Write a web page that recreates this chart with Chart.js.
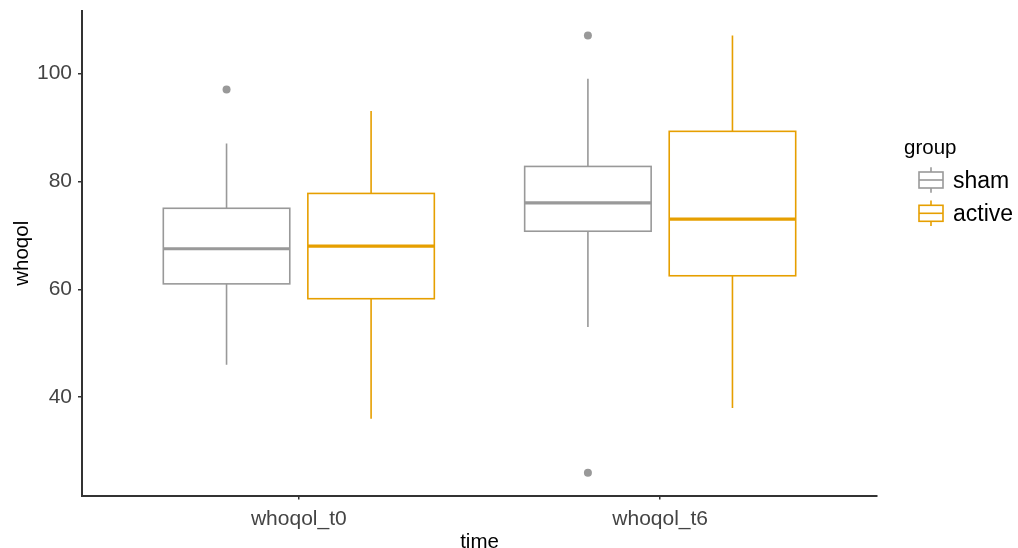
<!DOCTYPE html>
<html>
<head>
<meta charset="utf-8">
<script src="https://cdn.jsdelivr.net/npm/chart.js@4.4.1/dist/chart.umd.min.js"></script>
<style>
  html, body { margin: 0; padding: 0; background: #ffffff; }
  #wrap { width: 1018px; height: 548px; position: relative; }
</style>
</head>
<body>
<div id="wrap"><canvas id="c" width="1018" height="548"></canvas></div>
<script>
// ---- data ----
const categories = ['whoqol_t0', 'whoqol_t6'];
const groups = ['sham', 'active'];
const yTicks = [40, 60, 80, 100];

const shamMin    = [46, 53];
const shamQ1     = [61, 70.75];
const shamMedian = [67.5, 76];
const shamQ3     = [75, 82.75];
const shamMax    = [87, 99];
const shamOutliers = [[97], [107, 26]];

const activeMin    = [36, 38];
const activeQ1     = [58.25, 62.5];
const activeMedian = [68, 73];
const activeQ3     = [77.75, 89.25];
const activeMax    = [93, 107];
const activeOutliers = [[], []];

// ---- styling ----
const colors = { sham: '#999999', active: '#E69F00' };
const dodge = { sham: -0.2, active: 0.2 };
const boxWidth = 0.35;
const FONT = '"Liberation Sans", Arial, Helvetica, sans-serif';

const stats = {
  sham:   { min: shamMin, q1: shamQ1, med: shamMedian, q3: shamQ3, max: shamMax, out: shamOutliers },
  active: { min: activeMin, q1: activeQ1, med: activeMedian, q3: activeQ3, max: activeMax, out: activeOutliers }
};

const outlierDatasets = groups.map(g => ({
  label: g,
  data: stats[g].out.flatMap((arr, ci) => arr.map(v => ({ x: ci + 1 + dodge[g], y: v }))),
  backgroundColor: colors[g],
  borderWidth: 0,
  pointRadius: 4,
  pointHoverRadius: 4
}));

const boxPlugin = {
  id: 'boxes',
  beforeDatasetsDraw(chart) {
    const { ctx, scales: { x, y } } = chart;
    ctx.save();
    groups.forEach(g => {
      const s = stats[g];
      categories.forEach((c, ci) => {
        const xc = x.getPixelForValue(ci + 1 + dodge[g]);
        const xl = x.getPixelForValue(ci + 1 + dodge[g] - boxWidth / 2);
        const xr = x.getPixelForValue(ci + 1 + dodge[g] + boxWidth / 2);
        const yMin = y.getPixelForValue(s.min[ci]);
        const yQ1 = y.getPixelForValue(s.q1[ci]);
        const yMed = y.getPixelForValue(s.med[ci]);
        const yQ3 = y.getPixelForValue(s.q3[ci]);
        const yMax = y.getPixelForValue(s.max[ci]);
        ctx.strokeStyle = colors[g];
        ctx.lineWidth = 1.6;
        ctx.lineCap = 'butt';
        ctx.beginPath();
        ctx.moveTo(xc, yQ3); ctx.lineTo(xc, yMax);
        ctx.moveTo(xc, yQ1); ctx.lineTo(xc, yMin);
        ctx.stroke();
        ctx.fillStyle = '#ffffff';
        ctx.fillRect(xl, yQ3, xr - xl, yQ1 - yQ3);
        ctx.strokeRect(xl, yQ3, xr - xl, yQ1 - yQ3);
        ctx.lineWidth = 3.2;
        ctx.beginPath();
        ctx.moveTo(xl, yMed); ctx.lineTo(xr, yMed);
        ctx.stroke();
      });
    });
    ctx.restore();
  },
  afterDraw(chart) {
    const { ctx } = chart;
    ctx.save();
    ctx.fillStyle = '#000000';
    ctx.textAlign = 'left';
    ctx.textBaseline = 'alphabetic';
    ctx.font = '20.5px ' + FONT;
    ctx.fillText('group', 904, 153.5);
    groups.forEach((g, i) => {
      const cy = 180 + i * 33.3;
      const kx = 919, kw = 24;
      ctx.strokeStyle = colors[g];
      ctx.lineWidth = 1.6;
      ctx.beginPath();
      ctx.moveTo(kx + kw / 2, cy - 12.8); ctx.lineTo(kx + kw / 2, cy - 8);
      ctx.moveTo(kx + kw / 2, cy + 8); ctx.lineTo(kx + kw / 2, cy + 12.8);
      ctx.stroke();
      ctx.strokeRect(kx, cy - 8, kw, 16);
      ctx.beginPath();
      ctx.moveTo(kx, cy); ctx.lineTo(kx + kw, cy);
      ctx.stroke();
      ctx.fillStyle = '#000000';
      ctx.font = '23px ' + FONT;
      ctx.fillText(g, 953, cy + 7.5);
    });
    ctx.restore();
  }
};

new Chart(document.getElementById('c'), {
  type: 'scatter',
  data: { datasets: outlierDatasets },
  plugins: [boxPlugin],
  options: {
    responsive: false,
    animation: false,
    events: [],
    layout: { padding: { top: 11, right: 141, left: 0, bottom: 0 } },
    plugins: { legend: { display: false }, tooltip: { enabled: false } },
    scales: {
      x: {
        type: 'linear',
        min: 0.4,
        max: 2.6,
        afterBuildTicks: (scale) => { scale.ticks = categories.map((c, i) => ({ value: i + 1 })); },
        afterFit: (scale) => { scale.height = 52.5; scale.paddingLeft = 0; scale.paddingRight = 0; },
        ticks: {
          callback: (v) => categories[v - 1],
          font: { family: FONT, size: 21 },
          color: '#444444',
          padding: 7,
          maxRotation: 0
        },
        grid: { display: true, drawOnChartArea: false, drawTicks: true, tickLength: 4, color: '#333333', lineWidth: 1.5 },
        border: { display: true, color: '#333333', width: 2 },
        title: { display: true, text: 'time', font: { family: FONT, size: 20.5 }, color: '#000000', padding: { top: 0, bottom: -7 } }
      },
      y: {
        type: 'linear',
        min: 21.8,
        max: 111.54,
        afterBuildTicks: (scale) => { scale.ticks = yTicks.map(v => ({ value: v })); },
        afterFit: (scale) => { scale.width = 82; scale.paddingTop = 0; scale.paddingBottom = 0; },
        ticks: {
          font: { family: FONT, size: 21 },
          color: '#444444',
          padding: 6
        },
        grid: { display: true, drawOnChartArea: false, drawTicks: true, tickLength: 4, color: '#333333', lineWidth: 1.5 },
        border: { display: true, color: '#333333', width: 2 },
        title: { display: true, text: 'whoqol', font: { family: FONT, size: 20.5 }, color: '#000000', padding: { top: 10, bottom: 0 } }
      }
    }
  }
});
</script>
</body>
</html>
